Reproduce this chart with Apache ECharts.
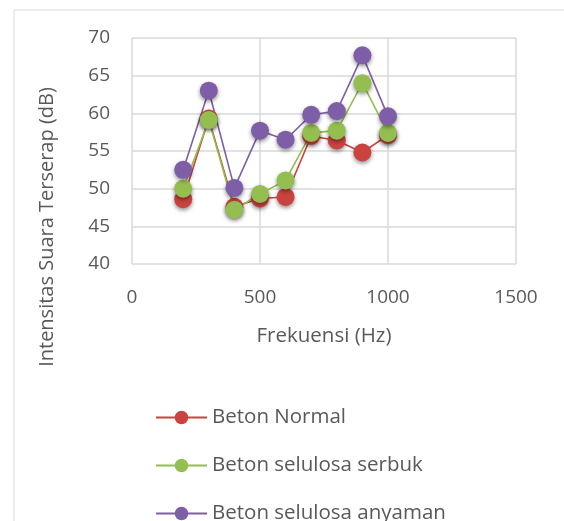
<!DOCTYPE html>
<html><head><meta charset="utf-8">
<script src="https://cdn.jsdelivr.net/npm/echarts@6/dist/echarts.min.js"></script>
<style>html,body{margin:0;padding:0;background:#fff}#c{width:564px;height:521px}</style>
</head><body><div id="c"></div>
<script>
const freq = [200, 300, 400, 500, 600, 700, 800, 900, 1000];
const betonNormal = [48.6, 59.3, 47.6, 48.7, 48.9, 57.0, 56.4, 54.8, 57.1];
const betonSerbuk = [50.0, 59.1, 47.2, 49.3, 51.1, 57.4, 57.7, 64.0, 57.4];
const betonAnyaman = [52.5, 63.0, 50.1, 57.7, 56.5, 59.8, 60.3, 67.7, 59.6];
const seriesNames = ['Beton Normal', 'Beton selulosa serbuk', 'Beton selulosa anyaman'];
const xTitle = 'Frekuensi (Hz)';
const yTitle = 'Intensitas Suara Terserap (dB)';
const colors = ['#C9433F', '#94BE50', '#7E5EA6'];
const font = '"Open Sans", "Liberation Sans", sans-serif';
const chart = echarts.init(document.getElementById('c'), null, {renderer: 'canvas'});
function mk(name, vals, color) {
  return {
    name: name, type: 'line',
    data: freq.map((f, i) => [f, vals[i]]),
    symbol: 'circle', symbolSize: 18,
    lineStyle: {color: color, width: 1.6},
    itemStyle: {color: color, shadowBlur: 4, shadowColor: 'rgba(0,0,0,0.45)', shadowOffsetY: 2},
    emphasis: {disabled: true}
  };
}
const legendTops = [402, 450, 498];
chart.setOption({
  animation: false,
  color: colors,
  graphic: [
    {type: 'rect', shape: {x: 14, y: 10, width: 600, height: 600}, style: {fill: 'none', stroke: '#d9d9d9', lineWidth: 1}, silent: true},
    {type: 'text', x: 47, y: 227, rotation: Math.PI / 2, silent: true,
     style: {text: yTitle, fill: '#595959', font: '20px ' + font, align: 'center', verticalAlign: 'middle'}}
  ],
  grid: {left: 132, right: 48, top: 38, bottom: 257},
  xAxis: {
    type: 'value', min: 0, max: 1500, interval: 500,
    name: xTitle, nameLocation: 'middle', nameGap: 62,
    nameTextStyle: {color: '#595959', fontSize: 20.5, fontFamily: font},
    axisLine: {show: false}, axisTick: {show: false},
    axisLabel: {color: '#595959', fontSize: 19, fontFamily: font, margin: 24, formatter: v => String(v)},
    splitLine: {show: true, lineStyle: {color: '#d9d9d9', width: 1.5}}
  },
  yAxis: {
    type: 'value', min: 40, max: 70, interval: 5,
    axisLine: {show: false}, axisTick: {show: false},
    axisLabel: {color: '#595959', fontSize: 19, fontFamily: font, margin: 22, formatter: v => String(v)},
    splitLine: {show: true, lineStyle: {color: '#d9d9d9', width: 1.5}}
  },
  legend: seriesNames.map((n, i) => ({
    orient: 'vertical', left: 150, top: legendTops[i], itemWidth: 51, itemHeight: 17,
    textStyle: {color: '#595959', fontSize: 20.5, fontFamily: font},
    data: [n], selectedMode: false
  })),
  series: [mk(seriesNames[0], betonNormal, colors[0]), mk(seriesNames[1], betonSerbuk, colors[1]), mk(seriesNames[2], betonAnyaman, colors[2])]
});
</script></body></html>
